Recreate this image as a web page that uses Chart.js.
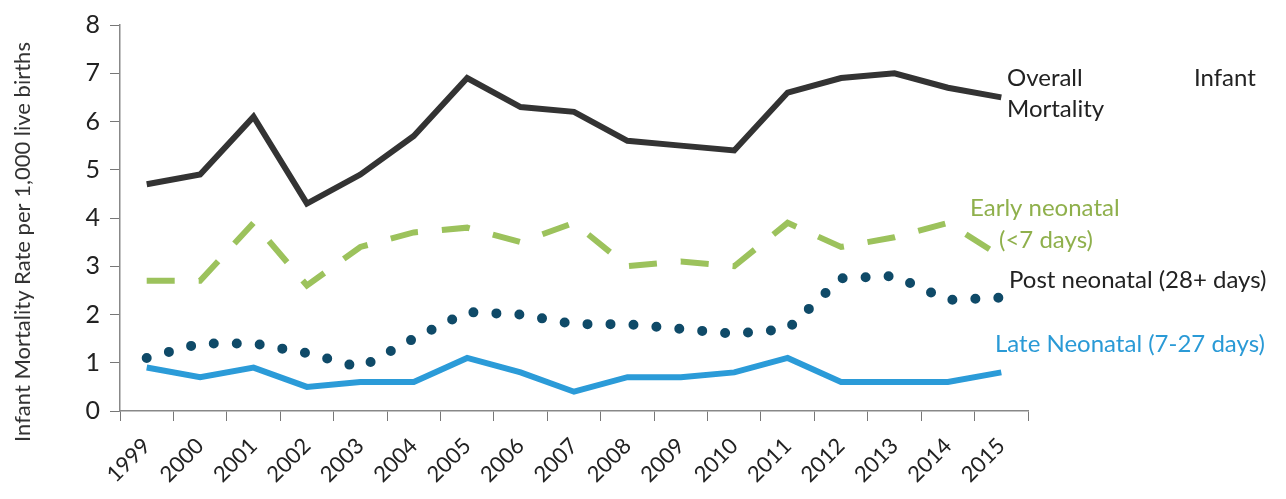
<!DOCTYPE html>
<html>
<head>
<meta charset="utf-8">
<script src="https://cdn.jsdelivr.net/npm/chart.js@4"></script>
<style>
  html, body { margin: 0; padding: 0; background: #fff; }
  #wrap { width: 1286px; height: 499px; }
</style>
</head>
<body>
<div id="wrap"><canvas id="chart" width="1286" height="499"></canvas></div>
<script>
// Dati
const years = ['1999','2000','2001','2002','2003','2004','2005','2006','2007','2008','2009','2010','2011','2012','2013','2014','2015'];
const overall = [4.7, 4.9, 6.1, 4.3, 4.9, 5.7, 6.9, 6.3, 6.2, 5.6, 5.5, 5.4, 6.6, 6.9, 7.0, 6.7, 6.5];
const earlyNeonatal = [2.7, 2.7, 3.9, 2.6, 3.4, 3.7, 3.8, 3.5, 3.9, 3.0, 3.1, 3.0, 3.9, 3.4, 3.6, 3.9, 3.2];
const postNeonatal = [1.1, 1.4, 1.4, 1.2, 0.9, 1.5, 2.05, 2.0, 1.8, 1.8, 1.7, 1.6, 1.7, 2.75, 2.8, 2.3, 2.35];
const lateNeonatal = [0.9, 0.7, 0.9, 0.5, 0.6, 0.6, 1.1, 0.8, 0.4, 0.7, 0.7, 0.8, 1.1, 0.6, 0.6, 0.6, 0.8];
const yTicks = [0, 1, 2, 3, 4, 5, 6, 7, 8];

const FONT = 'Lato, "Open Sans", sans-serif';

// Etichette di serie e titolo asse Y disegnati a mano
const seriesLabels = {
    id: 'seriesLabels',
    afterDraw(chart) {
        const ctx = chart.ctx;
        ctx.save();
        ctx.font = '24px ' + FONT;
        ctx.textBaseline = 'middle';
        ctx.textAlign = 'left';
        const put = (txt, x, y, color) => { ctx.fillStyle = color; ctx.fillText(txt, x, y); };
        put('Overall', 1007, 78, '#222');
        put('Infant', 1194, 78, '#222');
        put('Mortality', 1007, 109, '#222');
        put('Early neonatal', 970, 208, '#8fb04c');
        put('(<7 days)', 999, 240, '#8fb04c');
        put('Post neonatal (28+ days)', 1009, 280, '#222');
        put('Late Neonatal (7-27 days)', 995, 344, '#2a9ad6');

        // titolo asse Y
        ctx.translate(23, 242);
        ctx.rotate(-Math.PI / 2);
        ctx.textAlign = 'center';
        ctx.font = '22px ' + FONT;
        ctx.fillStyle = '#333';
        ctx.fillText('Infant Mortality Rate per 1,000 live births', 0, 0);
        ctx.restore();
    }
};

const ctx = document.getElementById('chart').getContext('2d');
new Chart(ctx, {
    type: 'line',
    data: {
        labels: years,
        datasets: [
            {
                label: 'Overall Infant Mortality',
                data: overall,
                borderColor: '#333333',
                borderWidth: 6,
                pointRadius: 0,
                tension: 0
            },
            {
                label: 'Early neonatal (<7 days)',
                data: earlyNeonatal,
                borderColor: '#9cc25c',
                borderWidth: 6,
                borderDash: [28, 24],
                pointRadius: 0,
                tension: 0
            },
            {
                label: 'Post neonatal (28+ days)',
                data: postNeonatal,
                borderColor: '#0f4a68',
                borderWidth: 10,
                borderDash: [0, 23],
                borderCapStyle: 'round',
                pointRadius: 0,
                tension: 0
            },
            {
                label: 'Late Neonatal (7-27 days)',
                data: lateNeonatal,
                borderColor: '#2b9bd8',
                borderWidth: 6,
                pointRadius: 0,
                tension: 0
            }
        ]
    },
    options: {
        responsive: false,
        animation: false,
        layout: { padding: { top: 19, right: 258, left: 0, bottom: 0 } },
        plugins: {
            legend: { display: false },
            tooltip: { enabled: false }
        },
        scales: {
            x: {
                offset: true,
                grid: {
                    display: true,
                    drawOnChartArea: false,
                    drawTicks: true,
                    tickLength: 10,
                    color: '#777',
                    offset: true
                },
                border: { color: '#888', width: 1.5 },
                ticks: {
                    color: '#222',
                    font: { family: FONT, size: 22 },
                    maxRotation: 45,
                    minRotation: 45,
                    autoSkip: false,
                    padding: 12
                },
                afterFit: (scale) => { scale.height = 88; }
            },
            y: {
                min: 0,
                max: 8,
                afterBuildTicks: (scale) => { scale.ticks = yTicks.map(v => ({ value: v })); },
                grid: {
                    display: true,
                    drawOnChartArea: false,
                    drawTicks: true,
                    tickLength: 10,
                    color: '#777'
                },
                border: { color: '#888', width: 1.5 },
                ticks: {
                    color: '#222',
                    font: { family: FONT, size: 25 },
                    padding: 10
                },
                afterFit: (scale) => { scale.width = 120; }
            }
        }
    },
    plugins: [seriesLabels]
});
</script>
</body>
</html>
